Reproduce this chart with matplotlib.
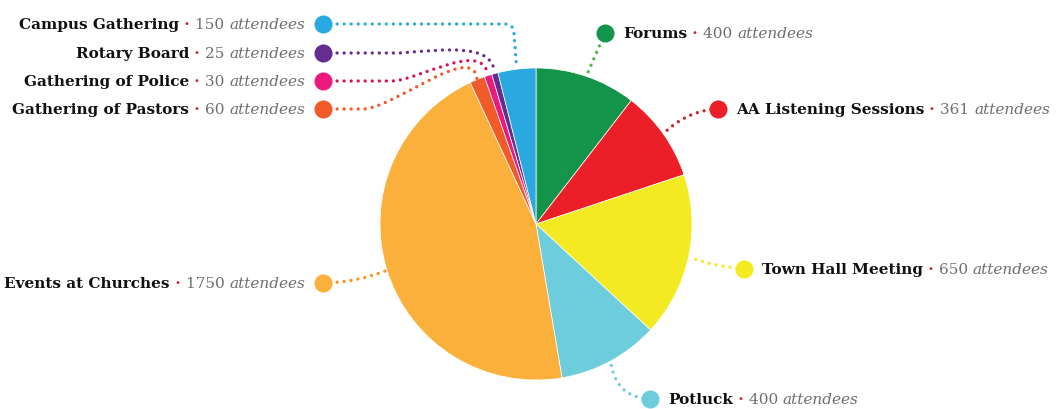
import numpy as np
import matplotlib.pyplot as plt
from matplotlib.path import Path
from matplotlib.patches import PathPatch

# datos do grafico
names = ["Forums", "AA Listening Sessions", "Town Hall Meeting", "Potluck",
         "Events at Churches", "Gathering of Pastors", "Gathering of Police",
         "Rotary Board", "Campus Gathering"]
attendees = [400, 361, 650, 400, 1750, 60, 30, 25, 150]
colors = ["#14944a", "#ec1f28", "#f4ea21", "#6dcddc", "#fbb03b",
          "#f15a29", "#ec1a7c", "#662d91", "#29a9e0"]
line_colors = ["#4cb848", "#c1272d", "#f4ea21", "#6dcddc", "#f7931e",
               "#f15a29", "#d4145a", "#662d91", "#29abe2"]

W, H = 1061, 409
cx, cy, R = 536, 224, 156

fig = plt.figure(figsize=(W/100, H/100), dpi=100)
ax = fig.add_axes([0, 0, 1, 1])
ax.pie(attendees, colors=colors, center=(cx, cy), radius=R, startangle=270,
       counterclock=True, wedgeprops=dict(edgecolor="white", linewidth=0.5))
ax.set_xlim(0, W)
ax.set_ylim(H, 0)
ax.set_aspect("auto")
ax.axis("off")

# pontos na borda da pizza (meio de cada fatia)
tot = sum(attendees)
cum = np.cumsum([0] + attendees)
ends = []
for i in range(len(attendees)):
    th = np.radians(270 + 360*(cum[i] + attendees[i]/2)/tot)
    ends.append((cx + (R+1)*np.cos(th), cy + (R+1)*np.sin(th)))

# posicao dos marcadores (x, y, lado)
marks = [(605, 33, "r"), (718, 109, "r"), (744, 269, "r"), (650, 399, "r"),
         (323, 283, "l"), (323, 109, "l"), (323, 81, "l"), (323, 53, "l"),
         (323, 24, "l")]

def conn(i):
    mx, my, _ = marks[i]
    ex, ey = ends[i]
    if i == 0:
        v = [(mx, my), (ex, ey)]; c = [Path.MOVETO, Path.LINETO]
    elif i == 1:
        v = [(mx, my), (688, 110), (ex, ey)]; c = [1, 3, 3]
    elif i == 2:
        v = [(mx, my), (712, 266), (ex, ey)]; c = [1, 3, 3]
    elif i == 3:
        v = [(mx, my), (616, 398), (ex, ey)]; c = [1, 3, 3]
    elif i == 4:
        v = [(mx, my), (355, 283), (ex, ey)]; c = [1, 3, 3]
    elif i == 5:
        v = [(mx, my), (363, my), (395, my-1), (472, 42), (ex, ey)]; c = [1, 2, 4, 4, 4]
    elif i == 6:
        v = [(mx, my), (392, my), (420, my-1), (482, 40), (ex, ey)]; c = [1, 2, 4, 4, 4]
    elif i == 7:
        v = [(mx, my), (400, my), (450, my-4), (492, 44), (ex, ey)]; c = [1, 2, 4, 4, 4]
    else:
        v = [(mx, my), (505, my), (514, my), (514, 34), (ex, ey)]; c = [1, 2, 3, 3, 2]
    return Path(v, c)

for i in range(len(names)):
    p = PathPatch(conn(i), fill=False, edgecolor=line_colors[i], lw=2.4,
                  linestyle=(0, (0.01, 2.1)), capstyle="round", zorder=3)
    ax.add_patch(p)
    ax.plot(marks[i][0], marks[i][1], "o", ms=13, color=colors[i], mec="none", zorder=4)

fig.canvas.draw()
rend = fig.canvas.get_renderer()

def width(t):
    bb = t.get_window_extent(renderer=rend)
    return bb.width

fs = 11
def label(i):
    mx, my, side = marks[i]
    parts = [(names[i], dict(color="#111111", weight="bold")),
             (" \u00b7 ", dict(color="#c1272d", weight="bold")),
             (str(attendees[i]) + " ", dict(color="#6d6e71")),
             ("attendees", dict(color="#6d6e71", style="italic"))]
    yb = my + 5
    if side == "r":
        x = mx + 18
        for s, kw in parts:
            t = ax.text(x, yb, s, fontsize=fs, family="DejaVu Serif", va="baseline",
                        ha="left", **kw)
            x += width(t)
    else:
        x = mx - 18
        for s, kw in reversed(parts):
            t = ax.text(x, yb, s, fontsize=fs, family="DejaVu Serif", va="baseline",
                        ha="right", **kw)
            x -= width(t)

for i in range(len(names)):
    label(i)

fig.savefig("out.png", dpi=100)
